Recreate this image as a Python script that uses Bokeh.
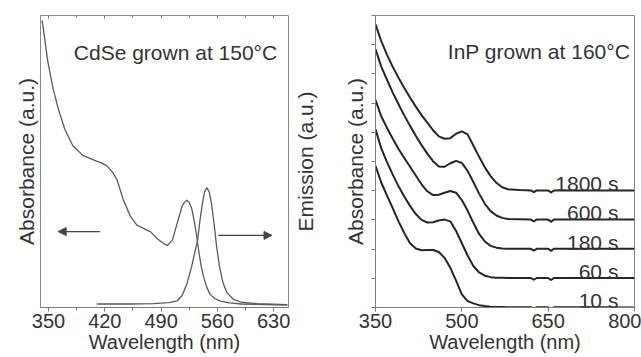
from bokeh.plotting import figure
from bokeh.layouts import row
from bokeh.models import Label, Arrow, NormalHead, FixedTicker, LinearAxis, Range1d
from bokeh.embed import file_html
from bokeh.resources import INLINE

# ---------------- data: left panel (CdSe) ----------------
cdse_abs_nm = [342, 345, 349, 355.5, 362, 370, 380, 393, 409, 415, 423, 430, 435, 443, 452, 460, 468,
               477, 485, 493, 498, 504, 510, 516, 519, 522, 525, 528, 531, 534, 537, 540, 543, 547,
               551, 557, 564, 575, 590, 620, 647]
cdse_abs = [98.3, 92.5, 84.4, 75.1, 68.2, 61.2, 55.5, 52.0, 50.2, 49.6, 48.4, 46.2, 43.9, 36.9, 31.1, 28.2, 27.1,
            25.9, 23.6, 21.9, 21.3, 23.0, 28.8, 34.6, 36.0, 36.7, 36.0, 34.0, 30.0, 25.0, 19.0, 14.0, 10.3, 6.8,
            4.5, 3.0, 2.2, 1.6, 1.2, 1.0, 0.8]
cdse_em_nm = [410, 450, 480, 500, 510, 516, 522, 528, 532, 535.4, 538, 541, 544, 547, 550, 553, 556,
              559, 563, 567, 572, 580, 590, 610, 647]
cdse_em = [1.2, 1.2, 1.3, 1.7, 2.3, 4.0, 8.0, 14.0, 19.0, 23.0, 29.0, 35.0, 39.5, 41.0, 39.5, 35.0, 28.5,
           21.0, 13.5, 8.5, 5.0, 2.8, 1.8, 1.3, 1.0]
cdse_ticks = [350, 420, 490, 560, 630]
cdse_minor = [385, 455, 525, 595]
cdse_arrows = [(414, 362, 26.0), (561, 628, 24.7)]   # (from nm, to nm, level)

# ---------------- data: right panel (InP) ----------------
inp_nm = [350, 360, 370, 380, 390, 400, 410, 420, 430, 440, 450, 460, 470, 480, 490, 500,
          510, 520, 530, 540, 550, 560, 570, 580, 600, 620, 625, 630, 650, 655, 660, 700, 750, 800]
inp_10s = [4.85, 4.28, 3.83, 3.40, 2.95, 2.55, 2.20, 2.02, 1.96, 1.97, 1.97, 1.90, 1.70, 1.36, 0.92, 0.45,
           0.22, 0.14, 0.08, 0.05, 0.03, 0.02, 0.02, 0.01, 0.01, 0.01, -0.05, 0.01, 0.01, -0.06, 0.01, 0.01, 0.01, 0.0]
inp_60s = [5.10, 4.45, 3.98, 3.55, 3.15, 2.80, 2.48, 2.20, 2.00, 1.91, 1.92, 1.98, 2.01, 1.95, 1.62, 1.20,
           0.78, 0.42, 0.20, 0.09, 0.04, 0.02, 0.02, 0.01, 0.01, 0.01, -0.05, 0.01, 0.01, -0.06, 0.01, 0.01, 0.01, 0.01]
inp_180s = [5.10, 4.55, 4.15, 3.78, 3.43, 3.12, 2.82, 2.52, 2.22, 1.98, 1.85, 1.86, 1.93, 1.99, 1.93, 1.68,
            1.32, 0.90, 0.52, 0.26, 0.11, 0.05, 0.02, 0.01, 0.01, 0.01, -0.05, 0.01, 0.01, -0.06, 0.01, 0.01, 0.01, 0.01]
inp_600s = [5.85, 5.25, 4.80, 4.36, 3.96, 3.58, 3.22, 2.88, 2.56, 2.27, 2.01, 1.83, 1.82, 1.94, 2.02, 1.95,
            1.68, 1.30, 0.90, 0.55, 0.30, 0.15, 0.07, 0.03, 0.02, 0.01, -0.05, 0.01, 0.01, -0.06, 0.01, 0.01, 0.01, 0.01]
inp_1800s = [5.70, 5.12, 4.65, 4.24, 3.87, 3.52, 3.19, 2.88, 2.59, 2.33, 2.07, 1.86, 1.78, 1.80, 1.95, 2.03,
             1.93, 1.55, 1.16, 0.80, 0.50, 0.27, 0.12, 0.05, 0.02, 0.01, -0.05, 0.01, 0.01, -0.06, 0.01, 0.01, 0.01, 0.01]
inp_series = [inp_10s, inp_60s, inp_180s, inp_600s, inp_1800s]
inp_labels = ["10 s", "60 s", "180 s", "600 s", "1800 s"]
inp_offsets = [0, 1, 2, 3, 4]
inp_ticks = [350, 500, 650, 800]
inp_yticks = [0, 1, 2, 3, 4, 5, 6, 7, 8, 9, 10]

FONT = "Liberation Sans"
TXT = "#333333"
AX = "#7a7a7a"


def style_common(p):
    p.grid.visible = False
    p.outline_line_color = "#8a8a8a"
    p.outline_line_width = 1
    p.background_fill_color = "white"
    p.border_fill_color = "white"


def style_xaxis(a, ticks, minor):
    a.ticker = FixedTicker(ticks=ticks, minor_ticks=minor)
    a.axis_line_color = AX
    a.major_tick_line_color = AX
    a.minor_tick_line_color = AX if minor else None
    a.major_tick_out = 4
    a.major_tick_in = 0
    a.minor_tick_out = 3
    a.minor_tick_in = 0
    a.major_label_standoff = 2
    a.major_label_text_font = FONT
    a.major_label_text_font_size = "20px"
    a.major_label_text_color = TXT
    a.axis_label = "Wavelength (nm)"
    a.axis_label_standoff = 0
    a.axis_label_text_font = FONT
    a.axis_label_text_font_size = "20px"
    a.axis_label_text_font_style = "normal"
    a.axis_label_text_color = TXT


def style_ylabel(a, text, standoff):
    a.axis_label = text
    a.axis_label_standoff = standoff
    a.axis_label_text_font = FONT
    a.axis_label_text_font_size = "21px"
    a.axis_label_text_font_style = "normal"
    a.axis_label_text_color = TXT


# ---------------- left figure ----------------
p1 = figure(width=290, height=357, x_range=Range1d(340, 648.5), y_range=Range1d(0, 100),
            output_backend="svg", toolbar_location=None,
            min_border_left=40, min_border_right=2, min_border_top=15, min_border_bottom=50)
style_common(p1)
style_xaxis(p1.xaxis[0], cdse_ticks, cdse_minor)

ya = p1.yaxis[0]
ya.ticker = FixedTicker(ticks=[])
ya.axis_line_color = None
style_ylabel(ya, "Absorbance (a.u.)", 3)

top = LinearAxis(ticker=FixedTicker(ticks=cdse_ticks, minor_ticks=cdse_minor),
                 major_tick_in=3, major_tick_out=0, minor_tick_in=2, minor_tick_out=0,
                 major_label_overrides={t: "" for t in cdse_ticks}, major_label_standoff=0,
                 axis_line_color=None, major_tick_line_color=AX, minor_tick_line_color=AX)
p1.add_layout(top, "above")

p1.line(cdse_abs_nm, cdse_abs, line_color="#5a5a5a", line_width=1.3, line_join="round")
p1.line(cdse_em_nm, cdse_em, line_color="#5a5a5a", line_width=1.3, line_join="round")

for (x0, x1, yy) in cdse_arrows:
    p1.add_layout(Arrow(end=NormalHead(size=8, fill_color="#444444", line_color="#444444"),
                        x_start=x0, y_start=yy, x_end=x1, y_end=yy,
                        line_color="#444444", line_width=1.4))

p1.add_layout(Label(x=634.4, y=87.3, text="CdSe grown at 150°C", text_align="right",
                    text_baseline="alphabetic", text_font=FONT, text_font_size="21px", text_color=TXT))

# ---------------- right figure ----------------
p2 = figure(width=351, height=357, x_range=Range1d(350, 800), y_range=Range1d(0, 10),
            output_backend="svg", toolbar_location=None,
            min_border_left=83, min_border_right=7, min_border_top=14, min_border_bottom=50)
style_common(p2)
style_xaxis(p2.xaxis[0], inp_ticks, [])
yb = p2.yaxis[0]
yb.ticker = FixedTicker(ticks=inp_yticks)
yb.axis_line_color = AX
yb.major_tick_line_color = AX
yb.major_tick_out = 4
yb.major_tick_in = 0
yb.minor_tick_line_color = None
yb.major_label_overrides = {t: "" for t in inp_yticks}
yb.major_label_standoff = 0
style_ylabel(yb, "Absorbance (a.u.)", 5)

# emission label of the left panel lives in the gutter between the two panels
em_axis = LinearAxis(ticker=FixedTicker(ticks=[]), axis_line_color=None)
style_ylabel(em_axis, "Emission (a.u.)", 24)
p2.add_layout(em_axis, "left")

for vals, off in zip(inp_series, inp_offsets):
    p2.line(inp_nm, [v + off for v in vals], line_color="#262626", line_width=2, line_join="round")

for lab, off in zip(inp_labels, inp_offsets):
    p2.add_layout(Label(x=772, y=off + 0.24, text=lab, text_align="right", text_baseline="alphabetic",
                        text_font=FONT, text_font_size="21px", text_color=TXT))

p2.add_layout(Label(x=792.5, y=8.76, text="InP grown at 160°C", text_align="right",
                    text_baseline="alphabetic", text_font=FONT, text_font_size="21px", text_color=TXT))

layout = row(p1, p2)
open("out.html", "w").write(file_html(layout, INLINE))
